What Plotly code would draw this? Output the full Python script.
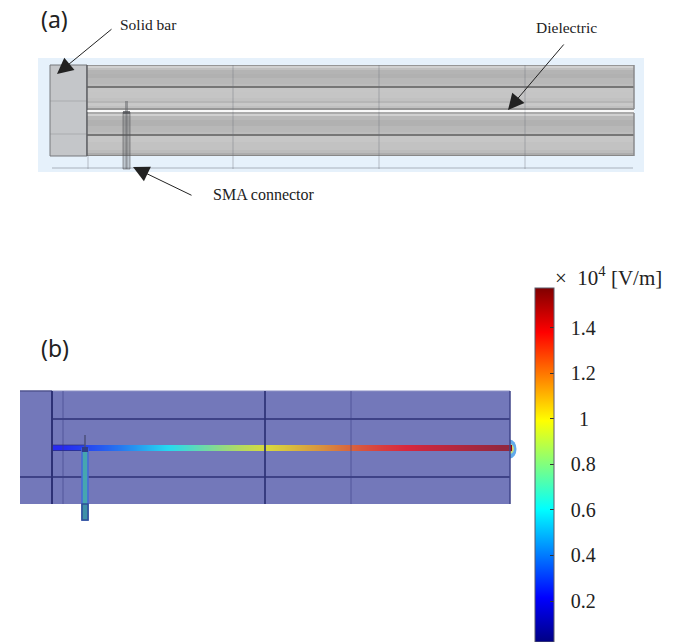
import plotly.graph_objects as go

# ---- data ----
TICK_VALUES = [0.2, 0.4, 0.6, 0.8, 1.0, 1.2, 1.4]
TICK_LABELS = ["0.2", "0.4", "0.6", "0.8", "1", "1.2", "1.4"]
FIELD_MIN = 0.02
FIELD_MAX = 1.574
# field along the conductor of panel (b), x4 V/m, sampled every 20 px from x=62
FIELD_VALUES = [0.22, 0.27, 0.33, 0.40, 0.49, 0.58, 0.66, 0.75, 0.84, 0.92, 0.98, 1.03,
                1.09, 1.15, 1.22, 1.28, 1.33, 1.37, 1.41, 1.44, 1.47, 1.50, 1.53]
FIELD_X = list(range(62, 503, 20))
# grey shading of the cylinders of panel (a), top to bottom
SHADE_EDGES = [65, 66, 68, 70, 74, 78, 84, 86, 88, 92, 98, 101, 103, 106, 108, 110, 112,
               114, 116, 120, 126, 132, 134, 136, 142, 150, 153, 155, 156]
SHADE_LEVELS = [150, 208, 192, 180, 177, 184, 188, 118, 198, 197, 193, 182, 200, 192, 150, 245,
                170, 208, 184, 177, 184, 188, 118, 198, 194, 188, 172, 135]

SERIF = "Liberation Serif"
SANS = "Noto Sans"

fig = go.Figure()

# cylinders
fig.add_trace(go.Heatmap(x=[87, 634], y=SHADE_EDGES, z=[[v] for v in SHADE_LEVELS],
                         coloraxis="coloraxis2", hoverinfo="skip"))
# field along the conductor, also carries the native colour bar
fig.add_trace(go.Heatmap(x=FIELD_X, y=[446.5, 449.5], z=[FIELD_VALUES, FIELD_VALUES],
                         zsmooth="best", coloraxis="coloraxis", hoverinfo="skip"))


def rect(x0, y0, x1, y1, fill="rgba(0,0,0,0)", line=None, width=1, layer="above"):
    fig.add_shape(type="rect", x0=x0, y0=y0, x1=x1, y1=y1, fillcolor=fill, layer=layer,
                  line=dict(color=line or "rgba(0,0,0,0)", width=width if line else 0))


def seg(x0, y0, x1, y1, color, width=1, layer="above"):
    fig.add_shape(type="line", x0=x0, y0=y0, x1=x1, y1=y1, layer=layer,
                  line=dict(color=color, width=width))


# ---- panel (a) ----
rect(38, 58, 644, 172, fill="#E6F1FB", layer="below")
rect(50, 65, 87, 156, fill="#C4C6C9", line="#77797C", layer="below")
seg(50, 101, 87, 101, "rgba(120,125,130,0.35)")
seg(50, 134, 87, 134, "rgba(120,125,130,0.35)")
seg(87, 65, 87, 156, "#5F6164", 1.5)
seg(52, 168, 633, 168, "#A9B1BC")
for gx in (88, 233, 379, 525):
    seg(gx, 156 if gx == 88 else 65, gx, 169, "rgba(105,112,122,0.4)")
seg(634, 65, 634, 109, "#8A8A8C", 1.5)
seg(634, 113, 634, 156, "#8A8A8C", 1.5)
seg(87, 111, 634, 111, "rgba(255,255,255,0.8)")
rect(123, 112, 130, 169, fill="rgba(85,88,92,0.28)", line="rgba(80,80,84,0.55)")
seg(126.5, 112, 126.5, 169, "rgba(80,80,84,0.4)", 2)
rect(125, 101, 128, 112, fill="rgba(95,98,102,0.5)")
rect(123, 111, 130, 114, fill="rgba(70,72,76,0.6)")

# ---- panel (b) ----
fig.add_shape(type="circle", x0=503, y0=439.5, x1=516.5, y1=458.5, layer="below",
              fillcolor="#62AAEA", line=dict(width=0))
fig.add_shape(type="circle", x0=506, y0=444, x1=514, y1=454, layer="below",
              fillcolor="#BFE08A", line=dict(width=0))
fig.add_shape(type="circle", x0=507, y0=446, x1=512.5, y1=452, layer="below",
              fillcolor="#F0B060", line=dict(width=0))
rect(20, 391, 510, 504, fill="#7378BA", layer="below")
DARK = "#2D3176"
seg(20, 391, 52, 391, "#50548F", 1.5)
seg(52, 391, 510, 391, "#8C90C4")
seg(52, 419, 510, 419, DARK, 1.5)
seg(20, 477, 510, 477, DARK, 1.5)
rect(52, 445, 510, 451, fill="rgba(125,130,205,0.3)")
seg(52, 391, 52, 504, DARK, 2)
seg(265, 391, 265, 504, "rgba(45,49,118,0.85)", 2)
seg(63, 391, 63, 504, "rgba(60,65,135,0.6)")
seg(351, 391, 351, 504, "rgba(60,65,135,0.6)")
seg(510, 391, 510, 504, "#3F4488", 1.5)
seg(52, 445, 85, 445, "rgba(45,49,118,0.7)")
seg(52, 450.5, 85, 450.5, "rgba(45,49,118,0.7)")
seg(85, 435, 85, 449, "#4B4F7A", 1.5)
rect(82, 449, 88, 520, fill="#46A6B0", line="#4468D8", width=1.5)
rect(82, 504, 88, 520, fill="#3E90A8", line="#2F4F96", width=1.5)
rect(82, 447, 88, 452, fill="#2F3C88")

# small marks on the left side of the colour bar
for v in TICK_VALUES:
    yy = 288 + (FIELD_MAX - v) / (FIELD_MAX - FIELD_MIN) * 354
    seg(535, yy, 539, yy, "#333333")


# ---- texts ----
def label(x, y, text, size, family=SERIF, color="#222222"):
    fig.add_annotation(x=x, y=y, text=text, showarrow=False, xanchor="left", yanchor="middle",
                       font=dict(family=family, size=size, color=color))


label(39, 19, "(a)", 23, SANS)
label(39, 348, "(b)", 23, SANS)
label(118, 24, "Solid bar", 15.5)
label(534, 27, "Dielectric", 15.5)
label(211, 194, "SMA connector", 16)
label(553, 276, "×  10<sup>4</sup> [V/m]", 21)

# ---- arrows ----
for tip, tail in (((57, 74), (113, 28)), ((508, 110), (565, 43)), ((133, 167), (193, 196))):
    fig.add_annotation(x=tip[0], y=tip[1], ax=tail[0], ay=tail[1], axref="x", ayref="y",
                       xref="x", yref="y", text="", showarrow=True, arrowhead=2,
                       arrowsize=3.2, arrowwidth=1, arrowcolor="#222222")

fig.update_layout(
    width=680, height=642, margin=dict(l=0, r=0, t=0, b=0),
    paper_bgcolor="white", plot_bgcolor="white", showlegend=False,
    xaxis=dict(range=[0, 680], visible=False, fixedrange=True),
    yaxis=dict(range=[642, 0], visible=False, fixedrange=True),
    coloraxis=dict(
        colorscale=[[0, "#000083"], [0.125, "#0000FF"], [0.375, "#00FFFF"],
                    [0.625, "#FFFF00"], [0.875, "#FF0000"], [1, "#800000"]],
        cmin=FIELD_MIN, cmax=FIELD_MAX,
        colorbar=dict(
            x=535 / 680, xanchor="left", y=1 - 288 / 642, yanchor="top",
            thickness=19, lenmode="pixels", len=354, xpad=0, ypad=0,
            outlinecolor="#5A5A6A", outlinewidth=1,
            tickmode="array", tickvals=TICK_VALUES,
            ticktext=[("\u00a0" * 4 + t) if len(t) == 1 else ("\u00a0\u00a0\u200a" + t)
                      for t in TICK_LABELS],
            ticks="inside", ticklen=4, tickcolor="#333333",
            tickfont=dict(family=SERIF, size=20, color="#222222"),
        ),
    ),
    coloraxis2=dict(colorscale=[[0, "#000000"], [1, "#ffffff"]], cmin=0, cmax=255, showscale=False),
)

fig.write_html("out.html", config=dict(displayModeBar=False),
               post_script="document.body.style.margin='0';")
